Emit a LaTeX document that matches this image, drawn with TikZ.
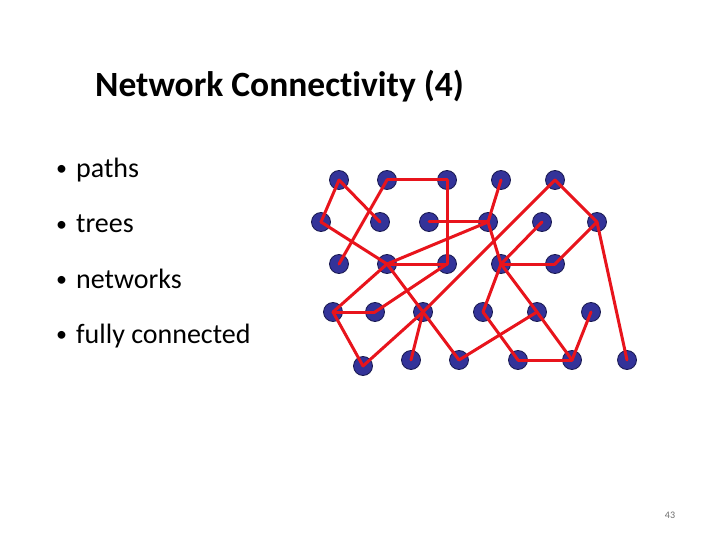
\documentclass[tikz,border=0pt]{standalone}
\usepackage{fontspec}
\setmainfont[Ligatures=NoCommon]{Carlito}
\definecolor{nodeblue}{RGB}{51,51,153}
\definecolor{nodeedge}{RGB}{25,25,80}
\definecolor{edgered}{RGB}{232,20,28}
\definecolor{pagegray}{RGB}{110,110,110}
\begin{document}
\begin{tikzpicture}[x=1pt,y=-1pt,
  vtx/.style={circle,fill=nodeblue,draw=nodeedge,line width=0.8pt,minimum size=19pt,inner sep=0pt},
  link/.style={draw=edgered,line width=3pt,line cap=round},
  bullettext/.style={anchor=base west,inner sep=0pt,font=\fontsize{28}{32}\selectfont},
  bulletdot/.style={anchor=base west,inner sep=0pt,font=\fontsize{22}{26}\selectfont}]
\useasboundingbox[fill=white] (0,0) rectangle (720,540);
\node[anchor=base west,inner sep=0pt,font=\fontsize{35.5}{40}\selectfont\bfseries] (title) at (95,97) {Network Connectivity (4)};
\node[bulletdot] (d1t) at (56,176) {•};
\node[bullettext] (b1t) at (76,178) {paths};
\node[bulletdot] (d2t) at (56,231) {•};
\node[bullettext] (b2t) at (76,233) {trees};
\node[bulletdot] (d3t) at (56,286) {•};
\node[bullettext] (b3t) at (76,288) {networks};
\node[bulletdot] (d4t) at (56,341) {•};
\node[bullettext] (b4t) at (76,343) {fully connected};
\node[anchor=center,inner sep=0pt,text=pagegray,font=\fontsize{10}{12}\selectfont] (pg) at (670,515) {43};
% vertices
\node[vtx] (a1) at (339,180) {};
\node[vtx] (a2) at (387,180) {};
\node[vtx] (a3) at (447,180) {};
\node[vtx] (a4) at (501,180) {};
\node[vtx] (a5) at (555,180) {};
\node[vtx] (b1) at (321,222) {};
\node[vtx] (b2) at (380,222) {};
\node[vtx] (b3) at (429,222) {};
\node[vtx] (b4) at (488,222) {};
\node[vtx] (b5) at (542,222) {};
\node[vtx] (b6) at (597,222) {};
\node[vtx] (c1) at (339,264) {};
\node[vtx] (c2) at (387,264) {};
\node[vtx] (c3) at (447,264) {};
\node[vtx] (c4) at (501,264) {};
\node[vtx] (c5) at (555,264) {};
\node[vtx] (d1) at (333,312) {};
\node[vtx] (d2) at (375,312) {};
\node[vtx] (d3) at (423,312) {};
\node[vtx] (d4) at (483,312) {};
\node[vtx] (d5) at (537,312) {};
\node[vtx] (d6) at (591,312) {};
\node[vtx] (e1) at (363,366) {};
\node[vtx] (e2) at (411,360) {};
\node[vtx] (e3) at (459,360) {};
\node[vtx] (e4) at (518,360) {};
\node[vtx] (e5) at (572,360) {};
\node[vtx] (e6) at (627,360) {};
% edges
\foreach \u/\v in {a1/b1,a1/b2,a2/a3,a2/c1,a3/c3,b1/c2,b3/b4,c2/b4,c2/c3,c2/d3,c2/d1,c3/d2,d1/d2,d1/e1,d3/e1,d3/e2,d3/e3,d3/a5,e3/d5,a4/b4,a5/b6,b6/c5,b5/c4,c4/c5,b4/c4,b6/e6,c4/d4,c4/d5,d5/e5,d4/e4,e4/e5,e5/d6}
  \draw[link] (\u.center) -- (\v.center);
\end{tikzpicture}
\end{document}
